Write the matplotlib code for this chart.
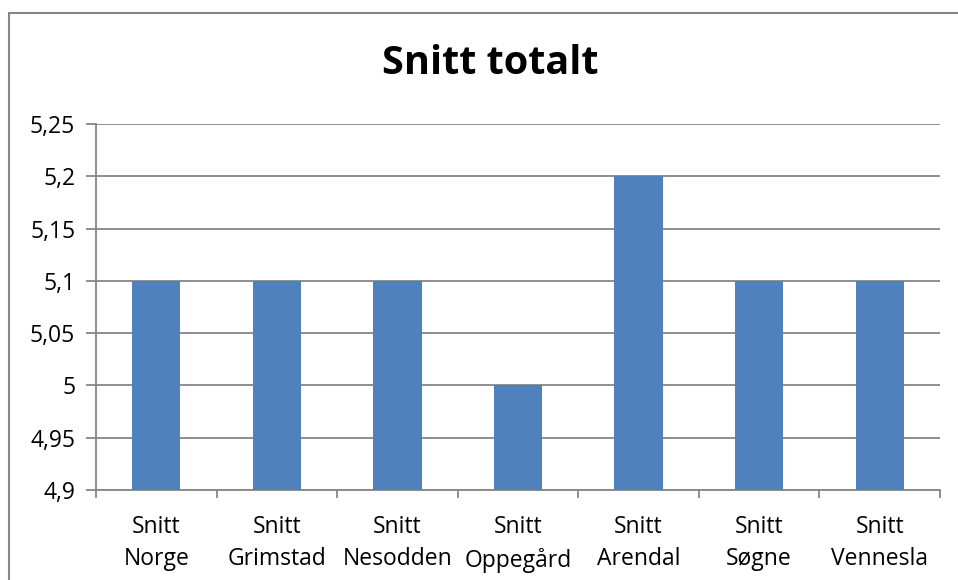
import matplotlib.pyplot as plt
from matplotlib.patches import Rectangle
from matplotlib.ticker import FixedLocator, FuncFormatter

plt.rcParams['font.family'] = ['Open Sans', 'DejaVu Sans']

# data
categories = ['Snitt\nNorge', 'Snitt\nGrimstad', 'Snitt\nNesodden', 'Snitt\nOppegård',
              'Snitt\nArendal', 'Snitt\nSøgne', 'Snitt\nVennesla']
values = [5.1, 5.1, 5.1, 5.0, 5.2, 5.1, 5.1]
yticks = [4.9, 4.95, 5.0, 5.05, 5.1, 5.15, 5.2, 5.25]

grey = '#868686'

fig = plt.figure(figsize=(9.58, 5.8), dpi=100)
ax = fig.add_axes([96 / 958, 1 - 490 / 580, 844 / 958, 366 / 580])

x = list(range(len(categories)))
ax.bar(x, [v - 4.9 for v in values], bottom=4.9, width=0.4, color='#4F81BD', zorder=3)

ax.set_xlim(-0.5, len(categories) - 0.5)
ax.set_ylim(4.9, 5.25)
ax.set_yticks(yticks)
ax.yaxis.set_major_formatter(FuncFormatter(lambda v, p: ('%g' % round(v, 2)).replace('.', ',')))
ax.yaxis.grid(True, color=grey, linewidth=1.3, zorder=0)

# labels at centres, ticks at category boundaries
ax.set_xticks(x)
ax.set_xticklabels(categories, linespacing=1.45)
ax.xaxis.set_minor_locator(FixedLocator([i - 0.5 for i in range(len(categories) + 1)]))
ax.tick_params(axis='x', which='major', length=0, pad=18, labelsize=16.5)
ax.tick_params(axis='x', which='minor', length=6, width=1.3, color=grey, direction='out')
ax.tick_params(axis='y', length=7, width=1.3, color=grey, labelsize=16.5, pad=8)

for s in ['top', 'right']:
    ax.spines[s].set_visible(False)
for s in ['left', 'bottom']:
    ax.spines[s].set_color(grey)
    ax.spines[s].set_linewidth(1.3)

fig.text(490 / 958, 1 - 64 / 580, 'Snitt totalt', ha='center', va='center',
         fontsize=28.5, fontweight='bold')

# chart border
fig.patches.append(Rectangle((9 / 958, -0.1), 1.2, 1 - 13 / 580 + 0.1,
                             transform=fig.transFigure, fill=False,
                             edgecolor=grey, linewidth=1.5, clip_on=False))

fig.savefig('out.png', dpi=100)
